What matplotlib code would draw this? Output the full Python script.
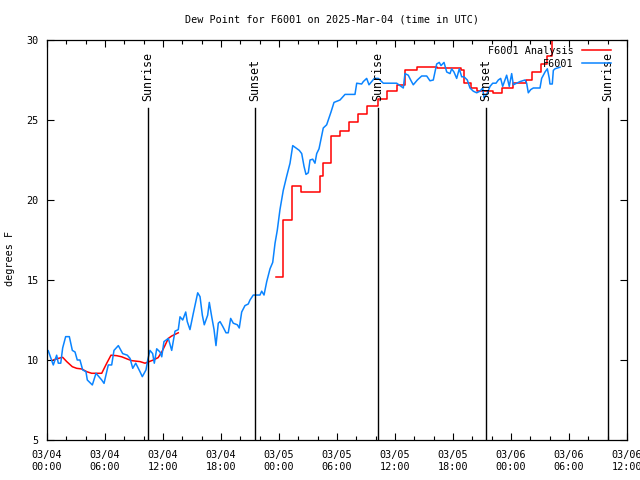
"""Dew point for F6001, gnuplot-style chart redrawn in matplotlib."""
import numpy as np
import matplotlib
matplotlib.use('Agg')
import matplotlib.pyplot as plt

plt.rcParams['font.family'] = ['DejaVu Sans Mono']
FS = 7.3

# hours since 03/04 00:00 UTC, dew point in degrees F
obs_hours = [0.13, 0.65, 1.0, 1.17, 1.42, 1.62, 1.93, 2.31, 2.62, 2.90, 3.13, 3.41, 3.69,
             4.03, 4.17, 4.69, 5.07, 5.66, 5.90, 6.34, 6.69, 6.93, 7.38, 7.83, 8.31, 8.59,
             8.87, 9.18, 9.62, 9.86, 10.24, 10.42, 10.65, 10.93, 11.1, 11.35, 11.69, 11.87,
             12.1, 12.55, 12.9, 13.24, 13.58, 13.76, 14.04, 14.35, 14.51, 14.79, 15.13,
             15.59, 15.83, 16.07, 16.27, 16.62, 16.79, 17.04, 17.28, 17.48, 17.72, 17.9,
             18.18, 18.52, 18.75, 19.0, 19.27, 19.69, 19.89, 20.14, 20.48, 20.82, 21.0,
             21.34, 22.03, 22.21, 22.45, 22.73, 23.07, 23.35, 23.59, 23.82, 24.1, 24.44,
             24.8, 25.14, 25.42, 25.65, 26.1, 26.35, 26.59, 26.79, 27.03, 27.21, 27.49,
             27.72, 27.9, 28.14, 28.58, 28.93, 29.38, 29.69, 30.31, 30.83, 31.86, 32.04,
             32.55, 32.72, 33.07, 33.31, 33.59, 33.86, 34.27, 34.79, 36.17, 36.86, 37.03,
             37.37, 37.62, 37.89, 38.31, 38.76, 39.28, 39.62, 39.96, 40.31, 40.58, 40.76,
             41.07, 41.35, 41.69, 41.86, 42.1, 42.38, 42.65, 42.9, 43.14, 43.48, 43.76,
             44.1, 44.45, 44.79, 45.07, 45.2, 45.49, 45.83, 46.11, 46.45, 46.69, 46.93,
             47.14, 47.38, 47.55, 47.82, 48.07, 48.24, 48.59, 48.93, 49.45, 49.62, 49.79,
             50.04, 50.31, 51.0, 51.17, 51.52, 51.76, 51.96, 52.03, 52.27, 52.38, 52.55,
             53.07]
obs_dewpt = [10.58, 9.69, 10.3, 9.8, 9.8, 10.75, 11.46, 11.46, 10.6, 10.5, 10.0, 10.0, 9.38,
             9.27, 8.75, 8.44, 9.17, 8.75, 8.54, 9.69, 9.69, 10.6, 10.9, 10.4, 10.3, 10.1,
             9.48, 9.8, 9.27, 8.96, 9.38, 10.0, 10.6, 10.4, 9.8, 10.7, 10.5, 10.2,
             11.15, 11.35, 10.6, 11.8, 11.9, 12.7, 12.5, 13.0, 12.4, 11.9, 12.9,
             14.2, 13.96, 12.8, 12.2, 12.8, 13.6, 12.7, 11.9, 10.9, 12.3, 12.4,
             12.1, 11.7, 11.7, 12.6, 12.3, 12.2, 12.0, 13.0, 13.4, 13.5, 13.75,
             14.06, 14.06, 14.3, 14.06, 14.9, 15.7, 16.1, 17.3, 18.1, 19.4, 20.6,
             21.5, 22.3, 23.4, 23.3, 23.1, 22.9, 22.1, 21.6, 21.7, 22.5, 22.55,
             22.3, 22.9, 23.2, 24.5, 24.7, 25.5, 26.1, 26.25, 26.6, 26.6, 27.3,
             27.25, 27.4, 27.6, 27.2, 27.4, 27.6, 27.6, 27.3, 27.3, 27.0, 27.9,
             27.8, 27.5, 27.2, 27.5, 27.75, 27.75, 27.45, 27.5, 28.5, 28.6, 28.4,
             28.6, 28.0, 27.9, 28.2, 28.0, 27.6, 28.2, 27.7, 27.7, 27.5, 27.0,
             26.8, 26.7, 26.8, 27.0, 26.4, 26.6, 27.1, 27.3, 27.3, 27.5, 27.6,
             27.1, 27.5, 27.8, 27.1, 27.9, 27.2, 27.3, 27.4, 27.5, 27.3, 26.7,
             26.9, 27.0, 27.0, 27.6, 28.0, 28.2, 27.6, 27.25, 27.25, 28.1, 28.2,
             28.3]

# analysis: smooth part on day 1, stepped part from day 2
ana1_hours = [0.65, 1.17, 1.62, 2.04, 2.62, 3.07, 3.59, 4.11, 4.62, 5.66, 6.18, 6.62, 7.21,
              7.73, 8.31, 8.76, 9.62, 10.14, 11.0, 11.5, 11.87, 12.2, 12.55, 12.9, 13.24,
              13.58]
ana1_dewpt = [10.0, 10.1, 10.17, 9.9, 9.58, 9.48, 9.44, 9.27, 9.17, 9.17, 9.8, 10.3, 10.27,
              10.2, 10.06, 9.96, 9.9, 9.8, 10.0, 10.15, 10.5, 10.9, 11.35, 11.5, 11.6, 11.7]
ana2_hours = [23.69, 24.41, 25.34, 26.27, 28.24, 28.52, 29.38, 30.31, 31.27, 32.2, 33.13,
              34.27, 35.14, 36.17, 37.03, 38.27, 40.34, 42.83, 43.1, 43.86, 44.45, 46.14,
              47.04, 48.2, 49.55, 50.14, 51.07, 51.75, 52.2, 52.96]
ana2_dewpt = [15.2, 18.75, 20.9, 20.5, 21.5, 22.3, 24.0, 24.3, 24.9, 25.4, 25.9,
              26.3, 26.8, 27.2, 28.1, 28.3, 28.25, 28.1, 27.3, 27.0, 26.8, 26.7,
              27.0, 27.3, 27.5, 28.0, 28.5, 29.0, 30.0, 30.0]

sun_hours = [10.45, 21.52, 34.24, 45.41, 58.03]
sun_labels = ['Sunrise', 'Sunset', 'Sunrise', 'Sunset', 'Sunrise']

tick_hours = [0, 6, 12, 18, 24, 30, 36, 42, 48, 54, 60]
tick_labels = ['03/04\n00:00', '03/04\n06:00', '03/04\n12:00', '03/04\n18:00',
               '03/05\n00:00', '03/05\n06:00', '03/05\n12:00', '03/05\n18:00',
               '03/06\n00:00', '03/06\n06:00', '03/06\n12:00']

RED = '#ff0000'
BLUE = '#0a84ff'

fig = plt.figure(figsize=(6.4, 4.8), dpi=100)
ax = fig.add_axes([47 / 640, 40 / 480, 580 / 640, 400 / 480])

ax.plot(ana1_hours, ana1_dewpt, color=RED, lw=1.1, label='F6001 Analysis')
ax.plot(ana2_hours, ana2_dewpt, color=RED, lw=1.1, drawstyle='steps-post')
ax.plot(obs_hours, obs_dewpt, color=BLUE, lw=1.1, label='F6001')

for h, lab in zip(sun_hours, sun_labels):
    ax.plot([h, h], [5, 25.75], color='black', lw=1.0)
    ax.text(h, 26.2, lab, rotation=90, ha='center', va='bottom', fontsize=8.4)

ax.set_xlim(0, 60)
ax.set_ylim(5, 30)
ax.set_xticks(tick_hours)
ax.set_xticklabels(tick_labels, fontsize=FS, linespacing=1.25)
ax.set_xticks(np.arange(0, 61, 2), minor=True)
ax.set_yticks([5, 10, 15, 20, 25, 30])
ax.tick_params(axis='both', which='major', direction='in', length=5, width=0.8,
               top=True, right=True, labelsize=FS)
ax.tick_params(axis='x', which='major', pad=7)
ax.tick_params(axis='y', which='major', pad=6)
ax.tick_params(axis='x', which='minor', direction='in', length=3, width=0.8, top=True)
for s in ax.spines.values():
    s.set_linewidth(0.9)

fig.text(332 / 640, 1 - 19 / 480, 'Dew Point for F6001 on 2025-Mar-04 (time in UTC)',
         ha='center', va='center', fontsize=FS)
fig.text(10 / 640, 1 - 258 / 480, 'degrees F', rotation=90, ha='center', va='center',
         fontsize=FS)

ax.legend(loc='upper right', bbox_to_anchor=(611 / 640, 1 - 46 / 480),
          bbox_transform=fig.transFigure, frameon=False, markerfirst=False,
          fontsize=FS, handlelength=2.9, handletextpad=0.8, labelspacing=0.25,
          borderpad=0, borderaxespad=0)

fig.savefig('out.png', dpi=100)
